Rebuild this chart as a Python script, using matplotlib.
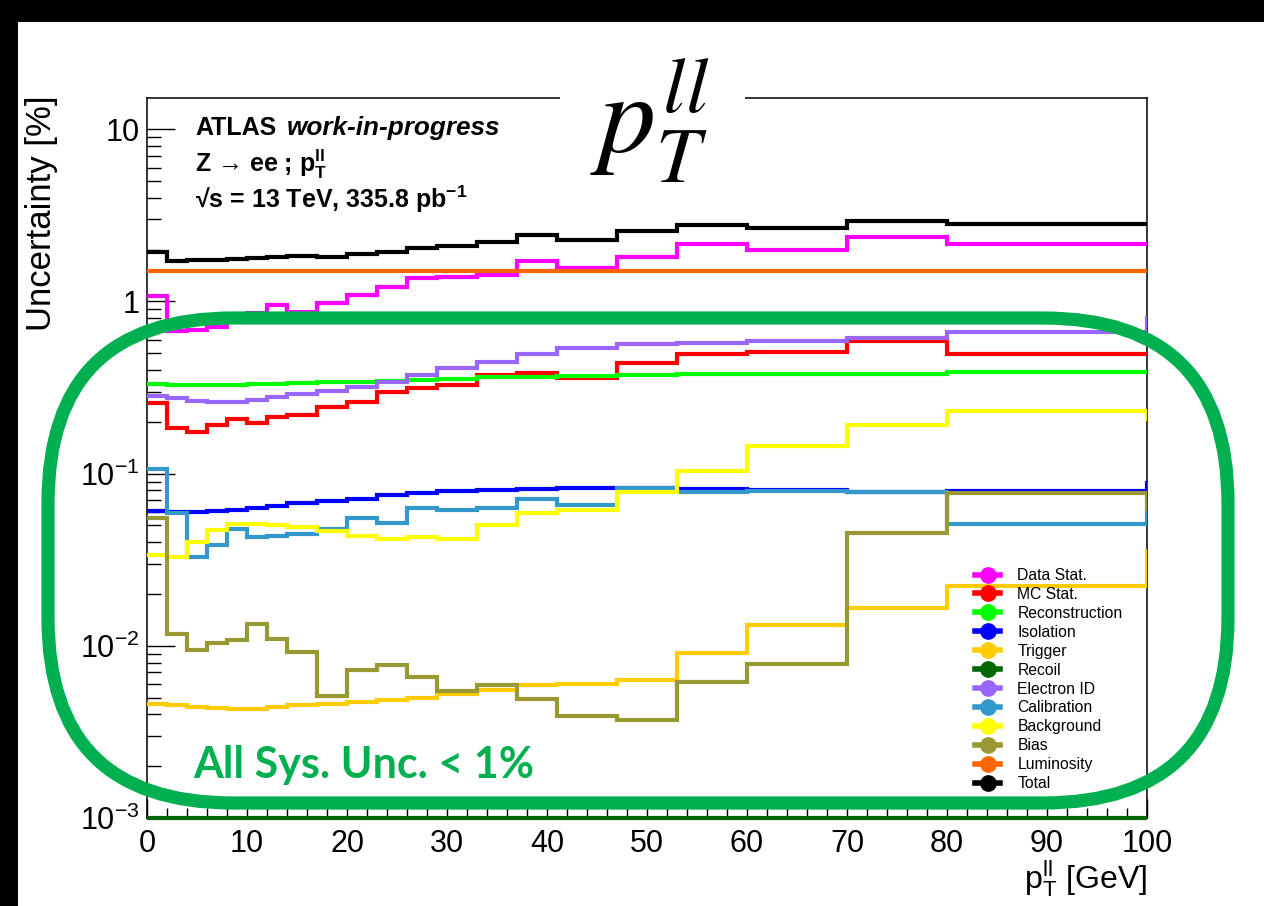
import matplotlib
matplotlib.use("Agg")
import matplotlib.pyplot as plt
from matplotlib.lines import Line2D
from matplotlib.patches import FancyBboxPatch, Rectangle
from matplotlib.ticker import MultipleLocator, LogLocator, FixedLocator, FixedFormatter, NullFormatter
from matplotlib.transforms import Affine2D

W, H = 1264, 906

# pT(ll) binning in GeV; the 100-110 bin is the overflow, only its step at 100 shows
edges = [0, 2, 4, 6, 8, 10, 12, 14, 17, 20, 23, 26, 29, 33, 37, 41, 47, 53, 60, 70, 80, 100, 110]

# relative uncertainties in %
data_stat = [1.07, 0.67, 0.68, 0.71, 0.82, 0.86, 0.95, 0.87, 0.98, 1.09, 1.22, 1.37, 1.38, 1.43,
             1.72, 1.56, 1.81, 2.16, 1.99, 2.36, 2.16, 2.16]
mc_stat = [0.256, 0.183, 0.175, 0.191, 0.207, 0.198, 0.214, 0.219, 0.245, 0.262, 0.299, 0.313,
           0.327, 0.374, 0.386, 0.361, 0.437, 0.495, 0.509, 0.592, 0.495, 0.495]
reconstruction = [0.331, 0.329, 0.328, 0.328, 0.329, 0.331, 0.333, 0.336, 0.339, 0.342, 0.346,
                  0.350, 0.355, 0.362, 0.366, 0.369, 0.372, 0.377, 0.378, 0.380, 0.388, 0.388]
isolation = [0.0608, 0.0600, 0.0600, 0.0608, 0.0619, 0.0632, 0.0653, 0.0676, 0.0695, 0.0717,
             0.0750, 0.0773, 0.0791, 0.0801, 0.0816, 0.0820, 0.0820, 0.0813, 0.0800, 0.0778,
             0.0790, 0.0877]
trigger = [0.00461, 0.00451, 0.00441, 0.00435, 0.00431, 0.00431, 0.00441, 0.00451, 0.00461,
           0.00471, 0.00487, 0.00500, 0.00527, 0.00551, 0.00590, 0.00597, 0.00630, 0.00908,
           0.01316, 0.0166, 0.0222, 0.0356]
recoil = [0.001, 0.001, 0.001, 0.001, 0.001, 0.001, 0.001, 0.001, 0.001, 0.001, 0.001,
          0.001, 0.001, 0.001, 0.001, 0.001, 0.001, 0.001, 0.001, 0.001, 0.001, 0.001]
electron_id = [0.282, 0.274, 0.265, 0.259, 0.261, 0.267, 0.277, 0.289, 0.303, 0.320, 0.342,
               0.374, 0.409, 0.447, 0.497, 0.534, 0.564, 0.576, 0.587, 0.616, 0.667, 0.80]
calibration = [0.1058, 0.0587, 0.0328, 0.0384, 0.0474, 0.0429, 0.0433, 0.0449, 0.0480, 0.0556,
               0.0517, 0.0633, 0.0613, 0.0633, 0.0711, 0.0656, 0.0827, 0.0784, 0.0794, 0.0784,
               0.0509, 0.060]
background = [0.0339, 0.0328, 0.0401, 0.0469, 0.0509, 0.0509, 0.0502, 0.0491, 0.0465, 0.0433,
              0.0416, 0.0429, 0.0420, 0.0502, 0.0587, 0.0619, 0.0784, 0.1038, 0.1445, 0.1914,
              0.232, 0.209]
bias = [0.0549, 0.01177, 0.0095, 0.01038, 0.01087, 0.01334, 0.0110, 0.0092, 0.00509, 0.00727,
        0.0077, 0.00659, 0.00546, 0.00589, 0.00493, 0.00389, 0.00369, 0.00616, 0.00788, 0.0453,
        0.0770, 0.062]
luminosity = [1.5, 1.5, 1.5, 1.5, 1.5, 1.5, 1.5, 1.5, 1.5, 1.5, 1.5,
              1.5, 1.5, 1.5, 1.5, 1.5, 1.5, 1.5, 1.5, 1.5, 1.5, 1.5]
total = [1.95, 1.72, 1.73, 1.75, 1.77, 1.80, 1.82, 1.84, 1.81, 1.89, 1.95, 2.04, 2.11, 2.23,
         2.44, 2.28, 2.55, 2.79, 2.67, 2.95, 2.81, 2.81]

labels = ["Data Stat.", "MC Stat.", "Reconstruction", "Isolation", "Trigger", "Recoil",
          "Electron ID", "Calibration", "Background", "Bias", "Luminosity", "Total"]
series = [data_stat, mc_stat, reconstruction, isolation, trigger, recoil,
          electron_id, calibration, background, bias, luminosity, total]
colors = ["#ff00ff", "#ff0000", "#00ff00", "#0000ff", "#ffcc00", "#006600",
          "#9966ff", "#3399cc", "#ffff00", "#999933", "#ff6600", "#000000"]

yticks = [1e-3, 1e-2, 1e-1, 1, 10]
ytick_labels = [r"$10^{-3}$", r"$10^{-2}$", r"$10^{-1}$", "1", "10"]

plt.rcParams["font.family"] = ["Liberation Sans", "DejaVu Sans"]
plt.rcParams["mathtext.fontset"] = "custom"
plt.rcParams["mathtext.rm"] = "Liberation Sans"
plt.rcParams["mathtext.it"] = "Liberation Sans:italic"
plt.rcParams["mathtext.bf"] = "Liberation Sans:bold"

fig = plt.figure(figsize=(W / 100, H / 100), dpi=100)
# helper: pixel coordinates, x from the left, y from the top
px = Affine2D().scale(1, -1).translate(0, H).scale(1 / W, 1 / H) + fig.transFigure

ax = fig.add_axes([147 / W, (H - 818) / H, 1000 / W, 720 / H])

for name, vals, col in zip(labels, series, colors):
    if name == "Recoil":
        # sits on the lower edge of the plot, keep it fully visible
        ax.stairs(vals[:-1], edges[:-1], color=col, lw=3, baseline=None, clip_on=False, zorder=3)
    else:
        ax.stairs(vals, edges, color=col, lw=3, baseline=None, zorder=3)

ax.set_yscale("log")
ax.set_xlim(0, 100)
ax.set_ylim(1e-3, 15.2)

ax.xaxis.set_major_locator(MultipleLocator(10))
ax.xaxis.set_minor_locator(MultipleLocator(2))
ax.yaxis.set_major_locator(FixedLocator(yticks))
ax.yaxis.set_major_formatter(FixedFormatter(ytick_labels))
ax.yaxis.set_minor_locator(LogLocator(base=10, subs=range(2, 10)))
ax.yaxis.set_minor_formatter(NullFormatter())
ax.tick_params(axis="both", which="both", direction="in", top=False, right=False,
               colors="black", width=1)
ax.tick_params(axis="x", which="major", length=14, pad=8, labelsize=22)
ax.tick_params(axis="x", which="minor", length=7)
ax.tick_params(axis="y", which="major", length=20, pad=5, labelsize=22)
ax.tick_params(axis="y", which="minor", length=10)
for sp in ax.spines.values():
    sp.set_linewidth(1.1)

ax.set_ylabel("Uncertainty [%]", fontsize=25, loc="top")
ax.yaxis.set_label_coords(-0.089, 1.003)
ax.set_xlabel(r"$\mathrm{p}_{\mathrm{T}}^{\mathrm{ll}}$ [GeV]", fontsize=23, loc="right")
ax.xaxis.set_label_coords(1.0, -0.056)

# experiment labels
ax.text(195, 135, "ATLAS", transform=px, fontsize=18, fontweight="bold", va="baseline")
ax.text(287, 135, "work-in-progress", transform=px, fontsize=18.8, fontweight="bold",
        fontstyle="italic", va="baseline")
ax.text(195, 172, r"Z → ee ; $\mathbf{p}_{\mathbf{T}}^{\mathbf{ll}}$", transform=px,
        fontsize=18, fontweight="bold", va="baseline")
ax.text(195, 208, r"√s = 13 TeV, 335.8 pb$^{\mathbf{-1}}$", transform=px,
        fontsize=18, fontweight="bold", va="baseline")

handles = [Line2D([], [], color=c, lw=4, marker="o", markersize=11) for c in colors]
fig.legend(handles, labels, loc="upper left", bbox_to_anchor=(975 / W, (H - 568) / H),
           frameon=False, fontsize=11.3, handlelength=1.6, handletextpad=1.1,
           labelspacing=0.25, borderpad=0, borderaxespad=0)

# big title over a white patch that interrupts the frame
fig.add_artist(Rectangle((560, 112), 185, -60, transform=px, facecolor="white",
                         edgecolor="none", zorder=5))
fig.text(650 / W, 1 - 121 / H, r"$p_T^{ll}$", fontsize=82, ha="center", va="center",
         math_fontfamily="stix", zorder=6)

# rounded box around the systematic components
fig.add_artist(FancyBboxPatch((48, H - 803), 1180, 485,
                              boxstyle="round,pad=0,rounding_size=185",
                              transform=Affine2D().scale(1 / W, 1 / H) + fig.transFigure,
                              facecolor="none", edgecolor="#00b050", lw=9.5, zorder=4))
fig.text(193 / W, (H - 778) / H, "All Sys. Unc. < 1%", fontsize=31, fontweight="bold",
         family=["Lato", "DejaVu Sans"], color="#00b050", va="baseline", zorder=6)

# dark border strips along the top and left edges
fig.add_artist(Rectangle((0, 0), W, 22, transform=px, facecolor="black",
                         edgecolor="none", zorder=7))
fig.add_artist(Rectangle((0, 0), 18, H, transform=px, facecolor="black",
                         edgecolor="none", zorder=7))

fig.savefig("out.png", dpi=100, facecolor="white")
